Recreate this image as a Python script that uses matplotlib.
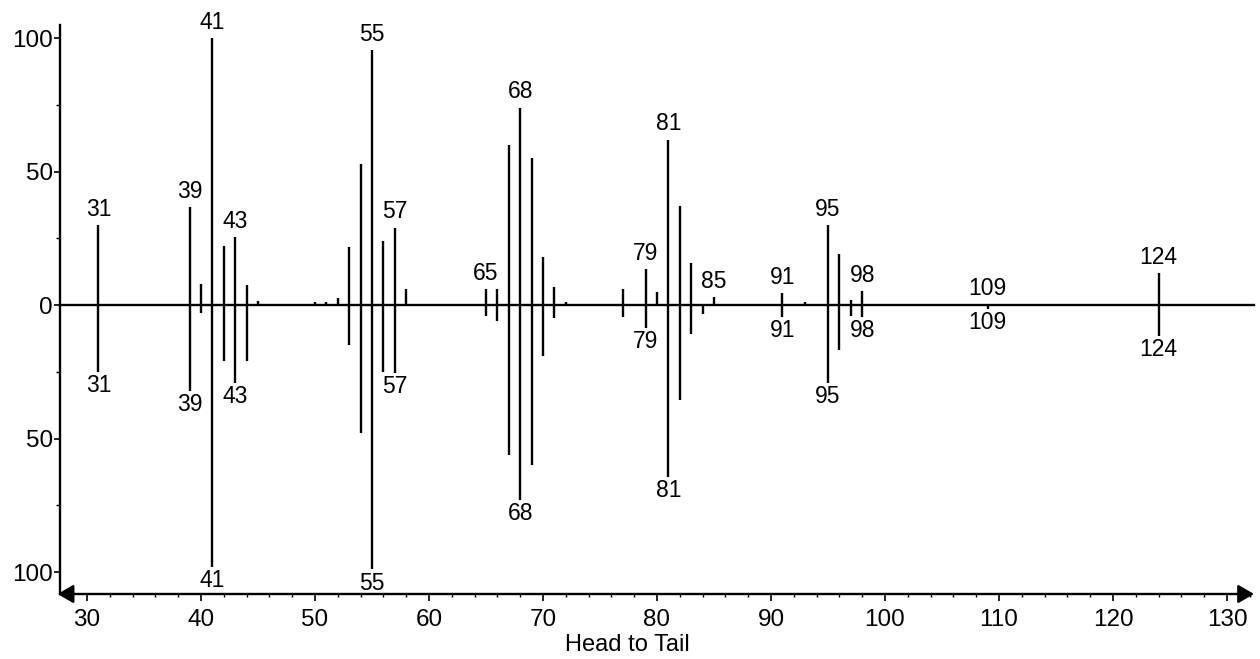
import matplotlib
matplotlib.use("Agg")
import matplotlib.pyplot as plt
from matplotlib.ticker import MultipleLocator, FuncFormatter
from matplotlib import transforms

plt.rcParams['font.family'] = ['Liberation Sans', 'DejaVu Sans']

# Head (upper) spectrum: m/z and relative intensity
head_mz = [31, 39, 40, 41, 42, 43, 44, 45, 50, 51, 52, 53, 54, 55, 56, 57, 58, 63,
           65, 66, 67, 68, 69, 70, 71, 72, 77, 79, 80, 81, 82, 83, 85, 86, 91, 93,
           95, 96, 97, 98, 109, 124]
head_int = [30, 36.7, 8, 100, 22, 25.5, 7.5, 1.5, 1, 1, 2.5, 21.7, 53, 95.6, 24, 29, 6, 0.5,
            6, 6, 60, 74, 55, 18, 6.6, 1, 6.2, 13.5, 5, 62, 37, 15.7, 2.9, 0.5, 4.4, 1.2,
            30, 19, 2, 5.1, 0.5, 12]

# Tail (lower) spectrum
tail_mz = [31, 39, 40, 41, 42, 43, 44, 53, 54, 55, 56, 57, 65, 66, 67, 68, 69, 70, 71,
           77, 79, 81, 82, 83, 84, 91, 95, 96, 97, 98, 109, 124]
tail_int = [25, 32, 3, 98, 21, 29, 21, 15, 48, 99, 25, 25.5, 4, 6, 56, 73, 60, 19, 5,
            4.4, 8.6, 64.5, 35.5, 11, 3.4, 4.6, 29, 17, 4.2, 4.6, 1.5, 11.7]

head_labels = [31, 39, 41, 43, 55, 57, 65, 68, 79, 81, 85, 91, 95, 98, 109, 124]
tail_labels = [31, 39, 41, 43, 55, 57, 68, 79, 81, 91, 95, 98, 109, 124]

x_label = "Head to Tail"

W, H = 1260, 659
fig = plt.figure(figsize=(W / 100, H / 100), dpi=100)
left_px, right_px, top_px, bottom_px = 60, 1254, 25, 594
ax_h = bottom_px - top_px
ax = fig.add_axes([left_px / W, 1 - bottom_px / H, (right_px - left_px) / W, ax_h / H])

ax.set_xlim(27.63, 132.37)
ax.set_ylim(-108.2, 104.9)

ax.vlines(head_mz, 0, head_int, color='black', lw=1.7)
ax.vlines(tail_mz, 0, [-v for v in tail_int], color='black', lw=1.7)
ax.axhline(0, color='black', lw=1.7, clip_on=False)

hmap = dict(zip(head_mz, head_int))
tmap = dict(zip(tail_mz, tail_int))
fs = 16.5
off_up = transforms.offset_copy(ax.transData, fig=fig, x=0, y=3, units='points')
off_dn = transforms.offset_copy(ax.transData, fig=fig, x=0, y=-1.5, units='points')
for m in head_labels:
    ax.text(m, hmap.get(m, 0), str(m), ha='center', va='bottom', fontsize=fs, transform=off_up)
for m in tail_labels:
    ax.text(m, -tmap.get(m, 0), str(m), ha='center', va='top', fontsize=fs, transform=off_dn)

# axes styling
for s in ['top', 'right', 'bottom']:
    ax.spines[s].set_visible(False)
ax.spines['left'].set_linewidth(1.7)

ax.yaxis.set_major_locator(MultipleLocator(50))
ax.yaxis.set_minor_locator(MultipleLocator(25))
ax.yaxis.set_major_formatter(FuncFormatter(lambda v, p: f"{abs(v):.0f}"))
ax.xaxis.set_major_locator(MultipleLocator(10))
ax.xaxis.set_minor_locator(MultipleLocator(2))
ax.tick_params(axis='y', which='major', length=4, width=1.2, labelsize=17.5, pad=1)
ax.tick_params(axis='y', which='minor', length=3, width=1.0)
ax.tick_params(axis='x', which='major', length=5, width=1.2, labelsize=17.5, pad=6)
ax.tick_params(axis='x', which='minor', length=2.5, width=1.0)

# bottom axis with arrows at both ends
ax.annotate('', xy=(-0.002, 0), xytext=(1.0, 0), xycoords='axes fraction',
            textcoords='axes fraction',
            arrowprops=dict(arrowstyle='<|-|>,head_length=0.6,head_width=0.35',
                            color='black', lw=1.7,
                            mutation_scale=16, shrinkA=0, shrinkB=0),
            annotation_clip=False)

ax.set_xlabel(x_label, fontsize=17)
ax.xaxis.set_label_coords((627 - left_px) / (right_px - left_px), -(634 - bottom_px) / ax_h)

fig.savefig("out.png", dpi=100)
